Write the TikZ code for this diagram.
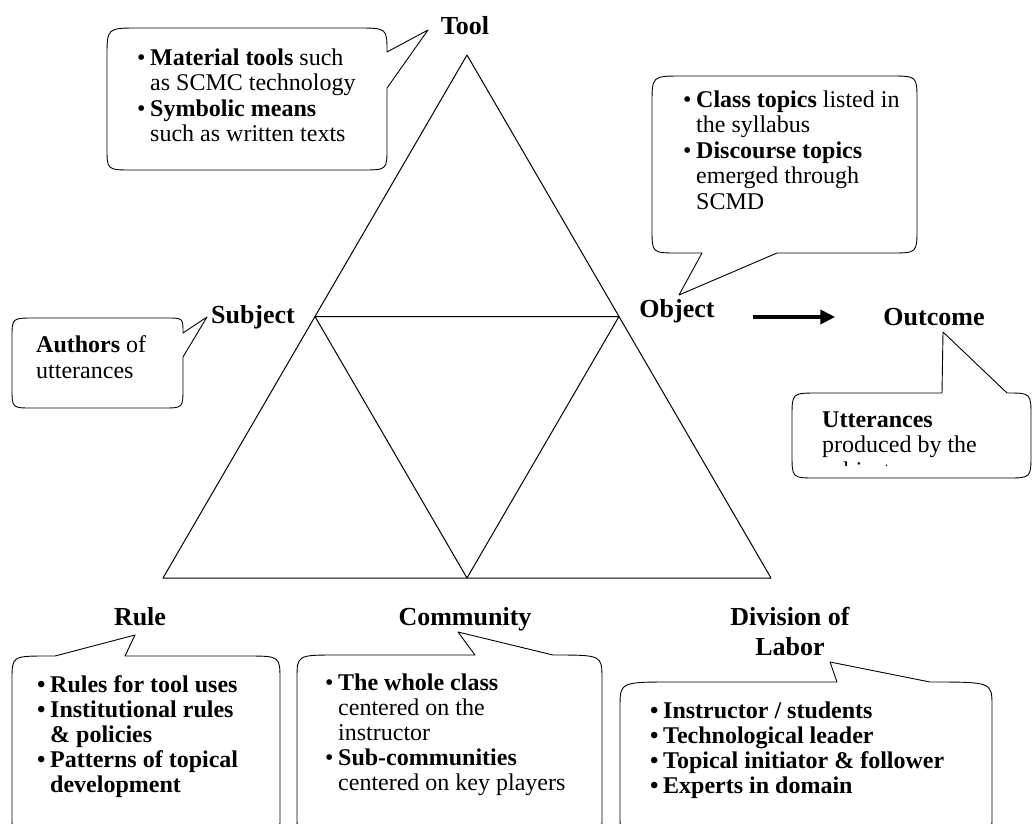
\documentclass[tikz,border=0pt]{standalone}
\usepackage{fontspec}
\setmainfont{Liberation Serif}
\usetikzlibrary{arrows.meta}

\newcommand{\bul}{\makebox[13pt][l]{\textbullet}}
\newcommand{\ind}{\hspace*{13pt}}

\begin{document}
\begin{tikzpicture}[x=1pt,y=-1pt]
  % pixel grid of the original figure, y running downwards
  \useasboundingbox (0,0) rectangle (1034,823);
  \clip (0,0) rectangle (1034,823);
  \tikzset{edge/.style={line width=1pt,line join=round},
            bubble/.style={draw,fill=white,line width=0.9pt,line join=round},
            pole/.style={font=\fontsize{26}{30}\selectfont\bfseries,inner sep=0pt,anchor=base,align=center},
            note/.style={font=\fontsize{24}{25.5}\selectfont,inner sep=0pt,anchor=north west,align=left},
            flow/.style={line width=4pt,-{Triangle[length=15pt,width=14pt]}}}

  % the activity triangle and its inner triangle
  \coordinate (apex) at (467,55);
  \coordinate (bl) at (163,578);
  \coordinate (br) at (771,578);
  \coordinate (ml) at (315,316.5);
  \coordinate (mr) at (619,316.5);
  \coordinate (mb) at (467,578);
  \draw[edge] (apex) -- (bl) -- (br) -- cycle;
  \draw[edge] (ml) -- (mr) -- (mb) -- cycle;

  \node[pole] (tool) at (465,34) {Tool};
  \node[pole] (subject) at (253,323) {Subject};
  \node[pole] (object) at (677,317) {Object};
  \node[pole] (outcome) at (934,325) {Outcome};
  \node[pole] (rule) at (140,625) {Rule};
  \node[pole] (community) at (465,625) {Community};
  \node[pole,anchor=north] (division) at (790,607) {Division of\\Labor};

  \draw[flow,shorten <=38pt,shorten >=48pt] (object.base east) -- (object.base east -| outcome.base west);

  % callouts
  \draw[bubble] (138,28) -- (357,28) .. controls (387,28) .. (387,52) -- (428,30) -- (387,88)
    -- (387,148) .. controls (387,170) .. (361,170) -- (133,170) .. controls (107,170) .. (107,148)
    -- (107,57) .. controls (107,28) .. (138,28) -- cycle;
  \node[note] (toolnote) at (137,48.5) {\bul\textbf{Material tools} such\\\ind as SCMC technology\\\bul\textbf{Symbolic means}\\\ind such as written texts};

  \draw[bubble] (682,76) -- (890,76) .. controls (917,76) .. (917,100) -- (917,229)
    .. controls (917,253) .. (890,253) -- (777,253) -- (679,295) -- (702,253) -- (678,253)
    .. controls (652,253) .. (652,229) -- (652,104) .. controls (652,76) .. (682,76) -- cycle;
  \node[note] (objnote) at (683,90.5) {\bul\textbf{Class topics} listed in\\\ind the syllabus\\\bul\textbf{Discourse topics}\\\ind emerged through\\\ind SCMD};

  \draw[bubble] (34,318) -- (167,318) .. controls (183,318) .. (183,333) -- (207,317) -- (183,357)
    -- (183,388) .. controls (183,408) .. (163,408) -- (32,408) .. controls (12,408) .. (12,388)
    -- (12,338) .. controls (12,318) .. (34,318) -- cycle;
  \node[note] (subjnote) at (36,335.5) {\textbf{Authors} of\\utterances};

  \draw[bubble] (818,393) -- (942,393) -- (943,332) -- (1007,393) .. controls (1031,393) .. (1031,417)
    -- (1031,454) .. controls (1031,478) .. (1007,478) -- (816,478) .. controls (792,478) .. (792,454)
    -- (792,417) .. controls (792,393) .. (818,393) -- cycle;
  \begin{scope}
    \clip (792,393) rectangle (1031,465);
    \node[note] (outnote) at (822,411.5) {\textbf{Utterances}\\produced by the\\subject};
  \end{scope}

  \draw[bubble] (48,656) -- (55,656) -- (135,635) -- (125,656) -- (246,656) .. controls (280,656) .. (280,680)
    -- (280,816) .. controls (280,840) .. (246,840) -- (46,840) .. controls (12,840) .. (12,816)
    -- (12,680) .. controls (12,656) .. (48,656) -- cycle;
  \node[note,font=\fontsize{24}{25}\selectfont\bfseries] (rulenote) at (37,675.5) {\bul Rules for tool uses\\\bul Institutional rules\\\ind\& policies\\\bul Patterns of topical\\\ind development};

  \draw[bubble] (337,655) -- (475,655) -- (458,632) -- (553,655) .. controls (602,655) .. (602,679)
    -- (602,816) .. controls (602,840) .. (562,840) -- (337,840) .. controls (297,840) .. (297,816)
    -- (297,679) .. controls (297,655) .. (337,655) -- cycle;
  \node[note,font=\fontsize{24}{25}\selectfont] (commnote) at (325,673.5) {\bul\textbf{The whole class}\\\ind centered on the\\\ind instructor\\\bul\textbf{Sub-communities}\\\ind centered on key players};

  \draw[bubble] (672,682) -- (837,682) -- (830,662) -- (930,682) .. controls (992,682) .. (992,706)
    -- (992,816) .. controls (992,840) .. (942,840) -- (672,840) .. controls (620,840) .. (620,816)
    -- (620,708) .. controls (620,682) .. (672,682) -- cycle;
  \node[note,font=\fontsize{24}{25}\selectfont\bfseries] (divnote) at (650,701.5) {\bul Instructor / students\\\bul Technological leader\\\bul Topical initiator \& follower\\\bul Experts in domain};
\end{tikzpicture}
\end{document}
